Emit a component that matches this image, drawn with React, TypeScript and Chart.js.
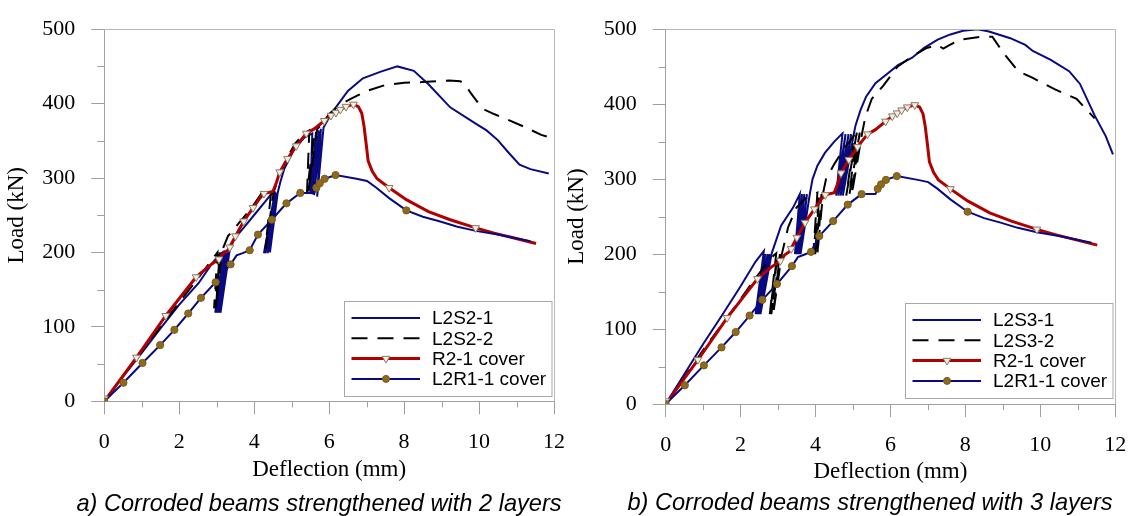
import React, { useEffect, useRef } from 'react';
import { Chart, registerables } from 'chart.js';

Chart.register(...registerables);

type Pt = [number, number];

// ---------- data (deflection mm, load kN) ----------
const L2S2_1: Pt[] = [
  [0, 0], [0.5, 33], [1, 65], [1.5, 98], [2, 130], [2.52, 159], [2.87, 185], [3.09, 198], [3.18, 201],
  [2.96, 119], [3.22, 200], [3.0, 119], [3.27, 200], [3.05, 119], [3.31, 200], [3.1, 119], [3.34, 201],
  [3.44, 215], [3.53, 222], [3.75, 235], [4.01, 251], [4.32, 270], [4.45, 278], [4.55, 280],
  [4.26, 199], [4.57, 280], [4.3, 199], [4.59, 280], [4.36, 199], [4.61, 280], [4.42, 200], [4.63, 281],
  [4.7, 295], [4.8, 312], [5.06, 338], [5.33, 354], [5.55, 360],
  [5.5, 279], [5.65, 362], [5.55, 278], [5.72, 364], [5.6, 277], [5.78, 366], [5.68, 275], [5.85, 368],
  [5.95, 377], [6.12, 391], [6.5, 417], [6.9, 434], [7.38, 443], [7.82, 450], [8.26, 444], [8.65, 426],
  [9.23, 395], [9.91, 373], [10.2, 364], [10.5, 351], [10.79, 334], [11.08, 318], [11.37, 312], [11.86, 306],
];

const L2S2_2: Pt[] = [
  [0, 0], [0.5, 34], [1, 67], [1.5, 100], [2, 133], [2.5, 165], [2.9, 192], [3.02, 200],
  [2.93, 125], [3.08, 200], [2.98, 125], [3.13, 201],
  [3.3, 222], [3.6, 240], [3.9, 258], [4.15, 276], [4.2, 280], [4.45, 281],
  [4.3, 205], [4.52, 281],
  [4.65, 300], [4.85, 325], [5.1, 347], [5.37, 361], [5.47, 364],
  [5.41, 281], [5.6, 360], [5.45, 282], [5.68, 366],
  [5.8, 372], [6.0, 386], [6.3, 399], [6.6, 407], [7.0, 417], [7.5, 425], [8.0, 428], [8.5, 429],
  [9.2, 431], [9.5, 430], [9.62, 426], [9.81, 412], [10.1, 393], [10.4, 386], [10.69, 380],
  [11.2, 369], [11.66, 358], [11.86, 355],
];

const L2S3_1: Pt[] = [
  [0, 0], [0.5, 40], [1, 80], [1.5, 118], [2, 157], [2.4, 190], [2.62, 204],
  [2.4, 120], [2.66, 200], [2.44, 120], [2.72, 200], [2.48, 120], [2.77, 200], [2.53, 120], [2.83, 201],
  [3.08, 238], [3.4, 262], [3.58, 280],
  [3.45, 200], [3.64, 280], [3.5, 200], [3.7, 280], [3.55, 200], [3.77, 280], [3.6, 200], [3.85, 281],
  [3.92, 300], [4.05, 318], [4.25, 335], [4.5, 350], [4.72, 361],
  [4.55, 278], [4.8, 360], [4.61, 278], [4.88, 360], [4.67, 278], [4.95, 360], [4.73, 278], [5.02, 360],
  [5.07, 372], [5.2, 392], [5.35, 410], [5.6, 428], [5.9, 440], [6.2, 452], [6.58, 462], [6.9, 475],
  [7.26, 486], [7.6, 493], [7.94, 498], [8.33, 500], [8.63, 497], [9.2, 488], [9.6, 479], [9.8, 471],
  [10.28, 459], [10.77, 444], [11.06, 427], [11.45, 385], [11.75, 357], [11.94, 333],
];

const L2S3_2: Pt[] = [
  [0, 0], [0.5, 36], [1, 72], [1.5, 106], [2, 140], [2.4, 168], [2.7, 188], [2.88, 198], [2.95, 201],
  [2.78, 120], [2.98, 200], [2.82, 120], [3.05, 200], [2.87, 120], [3.1, 200],
  [3.27, 236], [3.49, 262], [3.75, 275], [3.95, 280], [4.05, 282],
  [3.94, 200], [4.1, 280], [3.99, 200], [4.16, 280], [4.05, 200], [4.2, 281],
  [4.28, 300], [4.5, 320], [4.75, 340], [4.94, 352], [5.05, 360],
  [4.82, 278], [5.1, 362], [4.9, 278], [5.18, 362], [4.97, 280], [5.25, 363],
  [5.33, 383], [5.5, 407], [5.8, 424], [6.19, 450], [6.58, 464], [6.97, 475], [7.26, 479], [7.41, 474],
  [7.55, 478], [7.85, 486], [8.43, 490], [8.72, 490], [9.02, 468], [9.41, 444], [9.8, 435],
  [10.38, 420], [10.97, 407], [11.45, 381],
];

const R21_COVER: Pt[] = [
  [0, 0], [0.86, 59], [1.64, 115], [2.45, 167], [2.8, 182], [3.06, 191], [3.18, 199], [3.3, 203],
  [3.5, 222], [3.72, 242], [3.97, 260], [4.15, 273], [4.26, 279], [4.5, 282], [4.6, 295], [4.68, 308],
  [4.89, 326], [5.12, 343], [5.39, 360], [5.6, 366], [5.87, 377], [6.05, 384], [6.18, 388], [6.3, 392],
  [6.45, 396], [6.65, 399], [6.78, 396], [6.87, 387], [6.93, 370], [6.99, 345], [7.04, 323], [7.15, 309],
  [7.28, 299], [7.6, 287], [8.06, 271], [8.65, 255], [9.23, 244], [9.91, 233], [10.4, 226], [10.88, 220],
  [11.52, 212],
];

const R21_COVER_MARKERS: Pt[] = [
  [0, 4], [0.86, 59], [1.64, 115], [2.45, 167], [3.06, 191], [3.35, 207], [3.5, 222], [3.72, 242],
  [3.97, 260], [4.26, 279], [4.68, 308], [4.89, 326], [5.12, 343], [5.39, 360], [5.87, 377], [6.05, 384],
  [6.18, 388], [6.3, 392], [6.45, 396], [6.65, 399], [7.6, 287], [9.91, 233],
];

const L2R1_COVER: Pt[] = [
  [0, 0], [0.51, 25], [1.02, 51.5], [1.49, 75.5], [1.87, 96], [2.24, 118], [2.58, 139], [2.97, 160],
  [3.37, 184], [3.53, 196], [3.71, 199.5], [3.88, 203], [4.1, 224], [4.47, 244], [4.86, 266], [5.23, 280],
  [5.6, 280], [5.66, 287], [5.75, 293], [5.88, 299], [6.17, 304], [6.73, 299], [7.01, 296], [7.26, 287],
  [7.6, 273], [8.06, 256.5], [8.5, 248], [8.94, 242], [9.4, 235], [9.91, 229], [10.5, 224], [11.37, 215],
];

const L2R1_COVER_MARKERS: Pt[] = [
  [0, 0], [0.51, 25], [1.02, 51.5], [1.49, 75.5], [1.87, 96], [2.24, 118], [2.58, 139], [2.97, 160],
  [3.37, 184], [3.88, 203], [4.1, 224], [4.47, 244], [4.86, 266], [5.23, 280], [5.66, 287], [5.75, 293],
  [5.88, 299], [6.17, 304], [8.06, 256.5],
];

const LABELS_A = ['L2S2-1', 'L2S2-2', 'R2-1 cover', 'L2R1-1 cover'];
const LABELS_B = ['L2S3-1', 'L2S3-2', 'R2-1 cover', 'L2R1-1 cover'];
const CAPTION_A = 'a) Corroded beams strengthened with 2 layers';
const CAPTION_B = 'b) Corroded beams strengthened with 3 layers';
const X_TITLE = 'Deflection (mm)';
const Y_TITLE = 'Load (kN)';
const X_RANGE = [0, 12];
const Y_RANGE = [0, 500];
const X_STEP = 2;
const Y_STEP = 100;
const X_MINOR_TICKS = [1, 3, 5, 7, 9, 11];
const Y_MINOR_TICKS = [50, 150, 250, 350, 450];

// ---------- styles ----------
const NAVY = '#0a0a80';
const RED = '#b00000';
const BLACK = '#000000';
const AXIS = '#a0a0a0';
const FRAME = '#b8b8b8';
const TRI_EDGE = '#8c7b60';
const TRI_FILL = '#f2ede4';
const DOT_FILL = '#8e6a1c';
const DOT_EDGE = '#7c5c16';
const SERIF = '"Liberation Serif", "Times New Roman", serif';
const SANS = '"Liberation Sans", Arial, sans-serif';

type Entry = { color: string; width: number; dash: number[]; marker?: 'tri' | 'dot' };
const ENTRY_STYLES: Entry[] = [
  { color: NAVY, width: 2, dash: [] },
  { color: BLACK, width: 2, dash: [16, 10] },
  { color: RED, width: 3, dash: [], marker: 'tri' },
  { color: NAVY, width: 2, dash: [], marker: 'dot' },
];

function drawTri(ctx: CanvasRenderingContext2D, x: number, y: number, r: number) {
  ctx.beginPath();
  ctx.moveTo(x, y + r);
  ctx.lineTo(x - r * 0.866, y - r * 0.5);
  ctx.lineTo(x + r * 0.866, y - r * 0.5);
  ctx.closePath();
  ctx.fillStyle = TRI_FILL;
  ctx.fill();
  ctx.strokeStyle = TRI_EDGE;
  ctx.lineWidth = 1;
  ctx.stroke();
}

function drawDot(ctx: CanvasRenderingContext2D, x: number, y: number, r: number) {
  ctx.beginPath();
  ctx.arc(x, y, r, 0, Math.PI * 2);
  ctx.fillStyle = DOT_FILL;
  ctx.fill();
  ctx.strokeStyle = DOT_EDGE;
  ctx.lineWidth = 1;
  ctx.stroke();
}

function framePlugin() {
  return {
    id: 'frameTicks',
    afterDraw(chart: any) {
      const { ctx, chartArea: a, scales } = chart;
      ctx.save();
      ctx.lineWidth = 1;
      ctx.strokeStyle = FRAME;
      const t = Math.round(a.top) + 0.5;
      const r = Math.round(a.right) + 0.5;
      ctx.beginPath();
      ctx.moveTo(a.left, t);
      ctx.lineTo(r, t);
      ctx.lineTo(r, a.bottom);
      ctx.stroke();
      ctx.strokeStyle = AXIS;
      ctx.beginPath();
      Y_MINOR_TICKS.forEach((v) => {
        const y = Math.round(scales.y.getPixelForValue(v)) + 0.5;
        ctx.moveTo(a.left - 7, y);
        ctx.lineTo(a.left, y);
      });
      X_MINOR_TICKS.forEach((v) => {
        const x = Math.round(scales.x.getPixelForValue(v)) + 0.5;
        ctx.moveTo(x, a.bottom);
        ctx.lineTo(x, a.bottom + 6);
      });
      ctx.stroke();
      ctx.restore();
    },
  };
}

function legendPlugin(labels: string[], bottomInset: number) {
  return {
    id: 'boxLegend',
    afterDraw(chart: any) {
      const { ctx, chartArea: a } = chart;
      const w = 207.5;
      const h = 95;
      const x0 = Math.round(a.right - 2.5 - w);
      const y0 = Math.round(a.bottom - bottomInset - h);
      ctx.save();
      ctx.fillStyle = '#ffffff';
      ctx.fillRect(x0, y0, w, h);
      ctx.strokeStyle = '#a8a8a8';
      ctx.lineWidth = 1;
      ctx.strokeRect(x0 + 0.5, y0 + 0.5, w, h);
      labels.forEach((label, i) => {
        const st = ENTRY_STYLES[i];
        const y = y0 + 17 + i * 20.3;
        ctx.save();
        ctx.strokeStyle = st.color;
        ctx.lineWidth = st.width;
        ctx.setLineDash(st.dash);
        ctx.beginPath();
        ctx.moveTo(x0 + 7.5, y);
        ctx.lineTo(x0 + 76, y);
        ctx.stroke();
        ctx.restore();
        if (st.marker === 'tri') drawTri(ctx, x0 + 42, y, 4.5);
        if (st.marker === 'dot') drawDot(ctx, x0 + 42, y, 3.5);
        ctx.fillStyle = '#000';
        ctx.font = `19px ${SANS}`;
        ctx.textAlign = 'left';
        ctx.textBaseline = 'middle';
        ctx.fillText(label, x0 + 88, y + 1);
      });
      ctx.restore();
    },
  };
}

const toXY = (a: Pt[]) => a.map(([x, y]) => ({ x, y }));

function lineSet(data: Pt[], color: string, width: number, dash: number[], order: number) {
  return {
    data: toXY(data),
    showLine: true,
    borderColor: color,
    backgroundColor: color,
    borderWidth: width,
    borderDash: dash,
    pointRadius: 0,
    pointHoverRadius: 0,
    tension: 0,
    fill: false,
    order,
  };
}

function buildDatasets(s1: Pt[], s2: Pt[]) {
  return [
    lineSet(s1, NAVY, 2, [], 6),
    lineSet(s2, BLACK, 2, [16, 10], 5),
    lineSet(R21_COVER, RED, 3, [], 4),
    lineSet(L2R1_COVER, NAVY, 2, [], 3),
    {
      data: toXY(R21_COVER_MARKERS),
      showLine: false,
      pointStyle: 'triangle',
      rotation: 180,
      pointRadius: 4.5,
      pointBorderWidth: 1,
      pointBorderColor: TRI_EDGE,
      pointBackgroundColor: TRI_FILL,
      order: 1,
    },
    {
      data: toXY(L2R1_COVER_MARKERS),
      showLine: false,
      pointStyle: 'circle',
      pointRadius: 3.6,
      pointBorderWidth: 1,
      pointBorderColor: DOT_EDGE,
      pointBackgroundColor: DOT_FILL,
      order: 0,
    },
  ];
}

type PanelProps = {
  left: number;
  width: number;
  area: { left: number; top: number; right: number; bottom: number };
  s1: Pt[];
  s2: Pt[];
  labels: string[];
  xTitleBottom: number;
  xTickPad: number;
  legendBottom: number;
};

const H = 516;

function Panel(p: PanelProps) {
  const ref = useRef<HTMLCanvasElement>(null);
  useEffect(() => {
    const tickFont = { family: SERIF, size: 22 };
    const titleFont = { family: SERIF, size: 23 };
    const chart = new Chart(ref.current as HTMLCanvasElement, {
      type: 'scatter',
      data: { datasets: buildDatasets(p.s1, p.s2) as any },
      options: {
        animation: false,
        responsive: false,
        events: [],
        layout: { padding: { left: 0, top: p.area.top, right: p.width - p.area.right, bottom: 0 } },
        plugins: { legend: { display: false }, tooltip: { enabled: false } },
        scales: {
          x: {
            type: 'linear',
            min: X_RANGE[0],
            max: X_RANGE[1],
            ticks: { stepSize: X_STEP, font: tickFont, color: '#000', padding: p.xTickPad, maxRotation: 0, autoSkip: false },
            grid: { drawOnChartArea: false, drawTicks: true, tickLength: 13, color: AXIS },
            border: { display: true, color: AXIS, width: 1 },
            title: { display: true, text: X_TITLE, font: titleFont, color: '#000', padding: { top: 0, bottom: p.xTitleBottom } },
            afterFit: (s: any) => { s.height = H - p.area.bottom; },
          },
          y: {
            type: 'linear',
            min: Y_RANGE[0],
            max: Y_RANGE[1],
            ticks: { stepSize: Y_STEP, font: tickFont, color: '#000', padding: 16 },
            grid: { drawOnChartArea: false, drawTicks: true, tickLength: 13, color: AXIS },
            border: { display: true, color: AXIS, width: 1 },
            title: { display: true, text: Y_TITLE, font: titleFont, color: '#000', padding: { top: 2.7, bottom: 0 } },
            afterFit: (s: any) => { s.width = p.area.left; },
          },
        },
      } as any,
      plugins: [framePlugin(), legendPlugin(p.labels, p.legendBottom)],
    });
    return () => chart.destroy();
  }, []);
  return (
    <canvas
      ref={ref}
      width={p.width}
      height={H}
      style={{ position: 'absolute', left: p.left, top: 0, width: p.width, height: H }}
    />
  );
}

const captionStyle: React.CSSProperties = {
  position: 'absolute',
  font: `italic 23.6px ${SANS}`,
  lineHeight: '26px',
  textAlign: 'center',
  color: '#000',
  whiteSpace: 'nowrap',
};

export default function App() {
  return (
    <div style={{ position: 'absolute', left: 0, top: 0, width: 1141, height: H, background: '#fff', overflow: 'hidden' }}>
      <Panel
        left={0}
        width={580}
        area={{ left: 104.3, top: 20, right: 560.3, bottom: 401.3 }}
        s1={L2S2_1}
        s2={L2S2_2}
        labels={LABELS_A}
        xTitleBottom={32}
        xTickPad={15}
        legendBottom={5.5}
      />
      <Panel
        left={560}
        width={581}
        area={{ left: 105.7, top: 22.3, right: 561.7, bottom: 404 }}
        s1={L2S3_1}
        s2={L2S3_2}
        labels={LABELS_B}
        xTitleBottom={30.5}
        xTickPad={14.8}
        legendBottom={6.5}
      />
      <div style={{ ...captionStyle, left: 19, width: 600, top: 490 }}>{CAPTION_A}</div>
      <div style={{ ...captionStyle, left: 570, width: 600, top: 489 }}>{CAPTION_B}</div>
    </div>
  );
}
